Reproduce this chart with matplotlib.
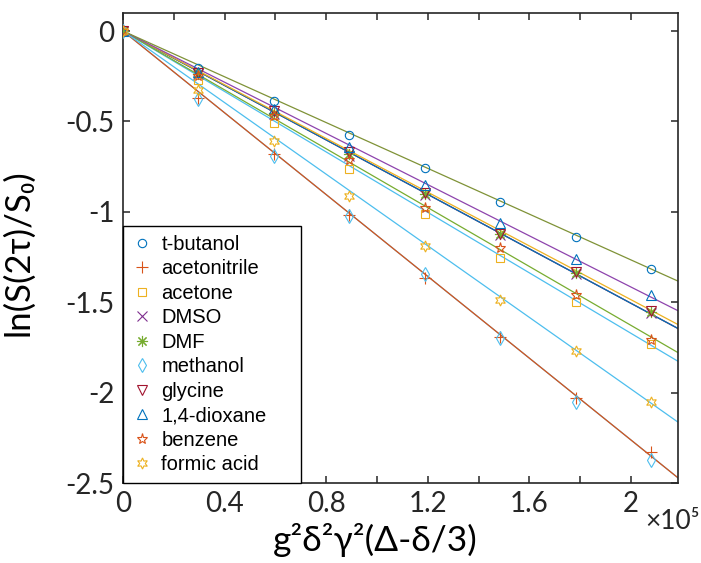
import numpy as np
import matplotlib
matplotlib.use("Agg")
import matplotlib.pyplot as plt
from matplotlib.ticker import MultipleLocator, FuncFormatter

# ---- data (x in units of 1e5) ----
x_vals = [0, 0.297, 0.594, 0.891, 1.188, 1.485, 1.782, 2.079]
names = ["t-butanol", "acetonitrile", "acetone", "DMSO", "DMF", "methanol",
         "glycine", "1,4-dioxane", "benzene", "formic acid"]
t_butanol    = [0, -0.204, -0.385, -0.573, -0.760, -0.947, -1.140, -1.316]
acetonitrile = [0, -0.370, -0.680, -1.020, -1.365, -1.690, -2.030, -2.330]
acetone      = [0, -0.270, -0.506, -0.765, -1.010, -1.255, -1.500, -1.730]
dmso         = [0, -0.240, -0.460, -0.690, -0.905, -1.130, -1.345, -1.560]
dmf          = [0, -0.235, -0.455, -0.680, -0.900, -1.125, -1.340, -1.555]
methanol     = [0, -0.378, -0.690, -1.025, -1.345, -1.700, -2.050, -2.370]
glycine      = [0, -0.230, -0.445, -0.670, -0.895, -1.120, -1.335, -1.550]
dioxane      = [0, -0.225, -0.430, -0.644, -0.850, -1.063, -1.260, -1.460]
benzene      = [0, -0.250, -0.470, -0.715, -0.980, -1.200, -1.460, -1.710]
formic_acid  = [0, -0.325, -0.610, -0.910, -1.190, -1.487, -1.770, -2.050]
series = [t_butanol, acetonitrile, acetone, dmso, dmf, methanol,
          glycine, dioxane, benzene, formic_acid]
# fitted slopes (per 1e5) of the straight lines through the origin
fit_slopes = [-0.633, -1.131, -0.836, -0.743, -0.753, -1.131,
              -0.753, -0.708, -0.814, -0.990]

# ---- styles ----
marker_colors = ["#0072BD", "#D95319", "#EDB120", "#7E2F8E", "#77AC30",
                 "#4DBEEE", "#A2142F", "#0072BD", "#D95319", "#EDB120"]
line_colors = ["#7F9237", "#D95319", "#4DBEEE", "#EDB120", "#0072BD",
               "#4DBEEE", "#A2142F", "#8E44AD", "#77AC30", "#4DBEEE"]
markers = ["o", "+", "s", "x", (8, 2, 0), "d", "v", "^", "*", (6, 1, 0)]
msizes = [6, 8, 5.5, 7, 8, 7, 6.5, 6.5, 8, 8]
line_order = [5, 1, 6, 4, 3, 2, 8, 9, 7, 0]

fig = plt.figure(figsize=(7.01, 5.63), dpi=100)
ax = fig.add_axes([0.1755, 0.142, 0.7917, 0.835])

xmax = 2.185
xl = np.array([0, xmax])
for i in line_order:
    ax.plot(xl, fit_slopes[i] * xl, color=line_colors[i], lw=0.9, zorder=2)

handles = []
for i, (nm, ys) in enumerate(zip(names, series)):
    h, = ax.plot(x_vals, ys, linestyle="none", marker=markers[i],
                 markersize=msizes[i], markerfacecolor="none",
                 markeredgecolor=marker_colors[i], markeredgewidth=0.8,
                 color=marker_colors[i], label=nm, zorder=3)
    handles.append(h)

ax.set_xlim(0, xmax)
ax.set_ylim(-2.5, 0.1)
ax.xaxis.set_major_locator(MultipleLocator(0.2))
ax.yaxis.set_major_locator(MultipleLocator(0.5))

def xfmt(v, pos):
    k = round(v / 0.2)
    if k % 2:
        return ""
    s = f"{v:.1f}"
    if s.endswith(".0"):
        s = s[:-2]
    return s

def yfmt(v, pos):
    s = f"{v:.1f}"
    if s.endswith(".0"):
        s = s[:-2]
    if s == "-0":
        s = "0"
    return s

ax.xaxis.set_major_formatter(FuncFormatter(xfmt))
ax.yaxis.set_major_formatter(FuncFormatter(yfmt))

lab_font = ["Lato", "DejaVu Sans"]
axc = "#262626"
ax.tick_params(direction="in", top=True, right=True, length=5, width=1.1,
               colors=axc, labelsize=20, pad=6)
for lab in ax.get_xticklabels() + ax.get_yticklabels():
    lab.set_family(lab_font)
for s in ax.spines.values():
    s.set_linewidth(1.2)
    s.set_color(axc)

ax.set_xlabel("g²δ²γ²(Δ-δ/3)", fontsize=25.5, family=lab_font, color="black")
ax.set_ylabel("ln(S(2τ)/S₀)", fontsize=25, family=lab_font, color="black")
ax.xaxis.set_label_coords(0.454, -0.085)
ax.yaxis.set_label_coords(-0.16, 0.49)

fig.text(0.998, 0.073, "×10⁵", ha="right", va="center",
         fontsize=19, family=lab_font, color=axc)

leg = ax.legend(handles=handles, loc="lower left", borderaxespad=0,
                bbox_to_anchor=(0, 0, 0.321, 0.5), mode="expand",
                fancybox=False, framealpha=1, edgecolor="black",
                prop={"family": "Liberation Sans", "size": 14.5},
                handlelength=1.0, handletextpad=0.45, labelspacing=0.27,
                borderpad=0.45)
leg.get_frame().set_linewidth(1.0)

fig.savefig("out.png", dpi=100)
